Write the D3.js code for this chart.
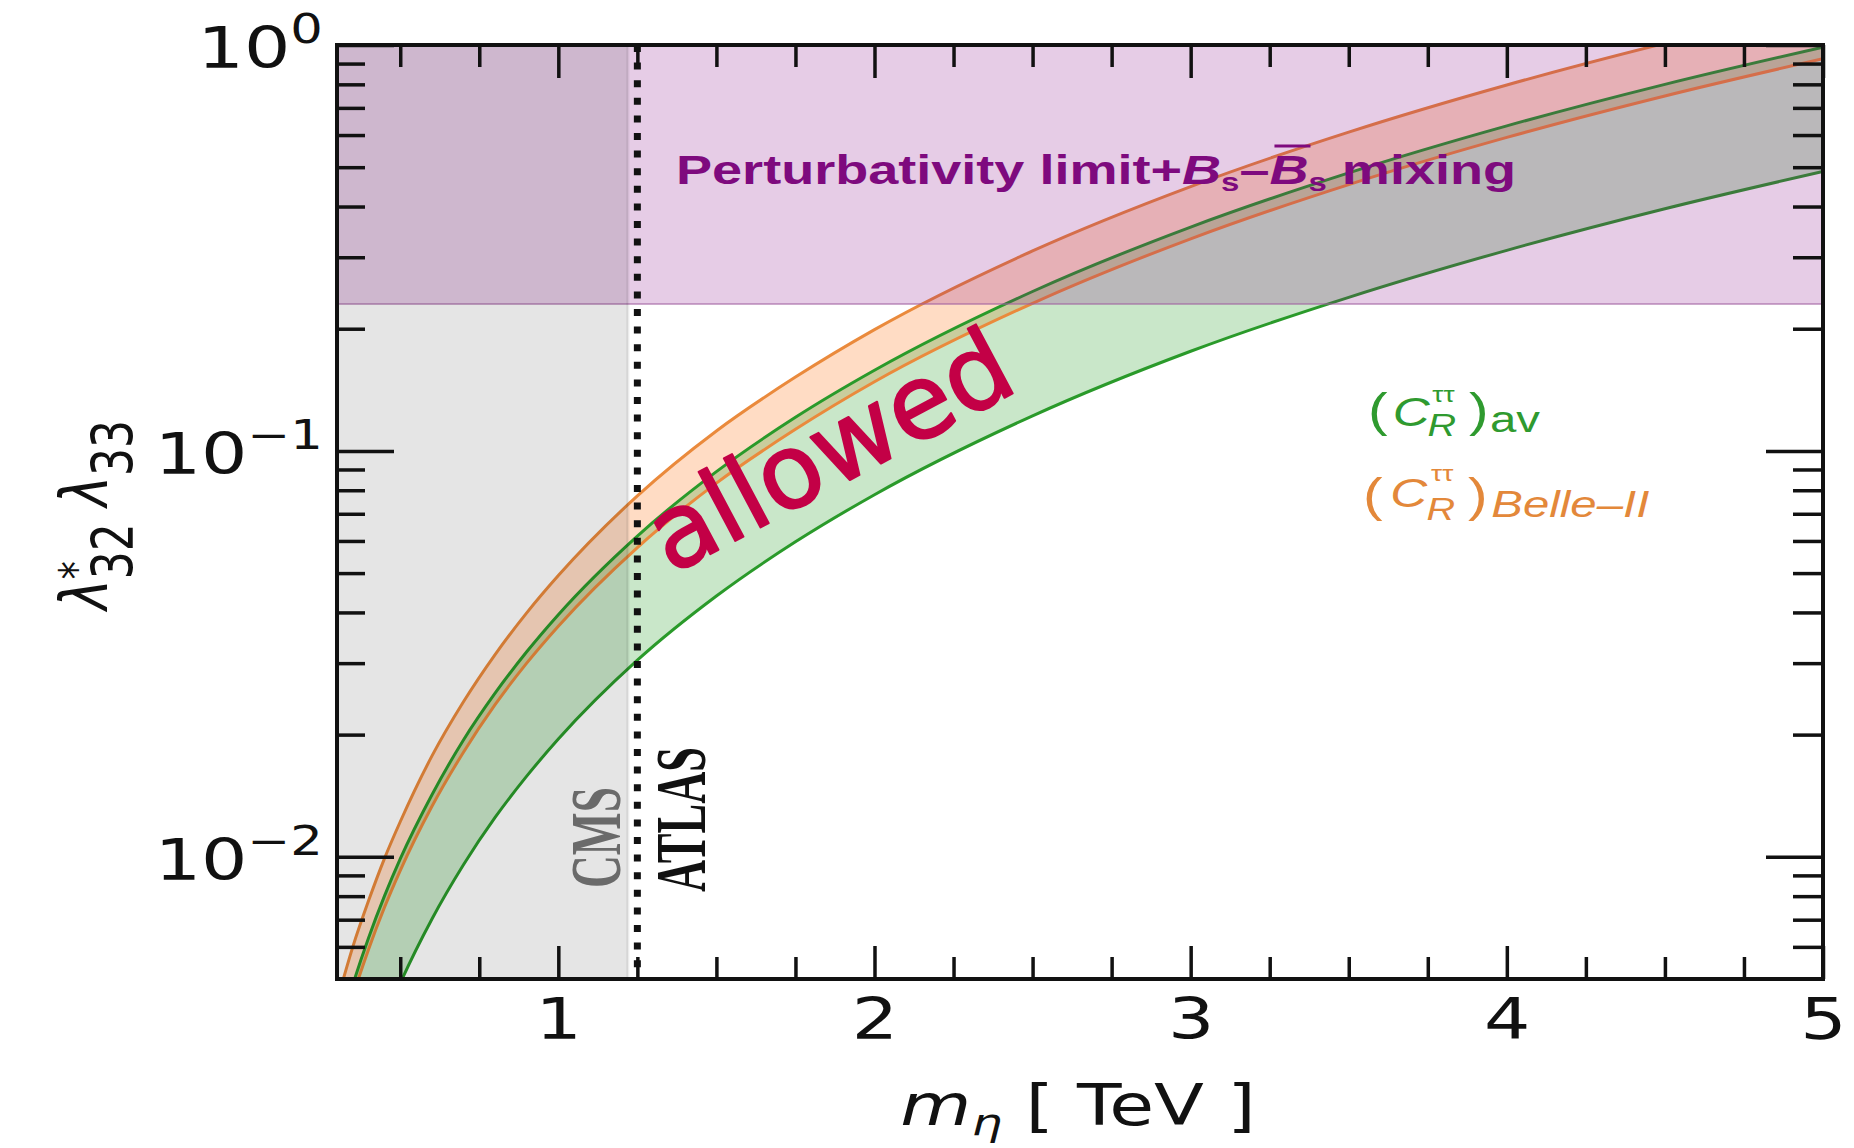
<!DOCTYPE html>
<html>
<head>
<meta charset="utf-8">
<script src="https://cdn.jsdelivr.net/npm/d3@7"></script>
<style>
  html, body { margin: 0; padding: 0; background: #fff; }
  svg { display: block; }
</style>
</head>
<body>
<div id="chart"></div>
<script>
// leptoquark mass grid (TeV) and the band edges
const massTeV = [0.3, 0.35, 0.4, 0.45, 0.5, 0.6, 0.7, 0.8, 0.9, 1.0, 1.25, 1.5, 1.75, 2.0, 2.5, 3.0, 3.5, 4.0, 4.5, 5.0];
const avLower = [0.00176, 0.00239, 0.00312, 0.00395, 0.00488, 0.00702, 0.00956, 0.0125, 0.0158, 0.0195, 0.0305, 0.0439, 0.0597, 0.078, 0.122, 0.176, 0.239, 0.312, 0.395, 0.488];
const avUpper = [0.00356, 0.00484, 0.00632, 0.008, 0.00988, 0.0142, 0.0194, 0.0253, 0.032, 0.0395, 0.0617, 0.0889, 0.121, 0.158, 0.247, 0.356, 0.484, 0.632, 0.8, 0.988];
const belleLower = [0.00333, 0.00453, 0.00592, 0.0075, 0.00925, 0.0133, 0.0181, 0.0237, 0.03, 0.037, 0.0578, 0.0833, 0.113, 0.148, 0.231, 0.333, 0.453, 0.592, 0.749, 0.925];
const belleUpper = [0.0044, 0.006, 0.0078, 0.0099, 0.0122, 0.0177, 0.0241, 0.0315, 0.0399, 0.0493, 0.0775, 0.112, 0.152, 0.199, 0.311, 0.448, 0.61, 0.797, 1.01, 1.25];

const perturbativityLimit = 0.23;
const cmsBound = 1.22;
const atlasBound = 1.25;

const xMajorTicks = [1, 2, 3, 4, 5];
const xMinorTicks = [0.5, 0.75, 1.25, 1.5, 1.75, 2.25, 2.5, 2.75, 3.25, 3.5, 3.75, 4.25, 4.5, 4.75];
const yMajorTicks = [0.01, 0.1, 1];
const yTickExponents = ['\u22122', '\u22121', '0'];
const yMinorTicks = [0.006, 0.007, 0.008, 0.009, 0.02, 0.03, 0.04, 0.05, 0.06, 0.07, 0.08, 0.09,
                     0.2, 0.3, 0.4, 0.5, 0.6, 0.7, 0.8, 0.9];

const width = 1854, height = 1148;
const plot = { left: 337, right: 1823, top: 45, bottom: 979 };
const stretch = 1.28; // the source figure is stretched sideways

const svg = d3.select('#chart').append('svg')
    .attr('width', width)
    .attr('height', height)
    .attr('viewBox', `0 0 ${width} ${height}`);

const x = d3.scaleLinear().domain([0.3, 5]).range([plot.left, plot.right]);
const y = d3.scaleLog().domain([0.005, 1]).range([plot.bottom, plot.top]);

svg.append('defs').append('clipPath')
    .attr('id', 'plot-clip')
    .append('rect')
    .attr('x', plot.left)
    .attr('y', plot.top)
    .attr('width', plot.right - plot.left)
    .attr('height', plot.bottom - plot.top);

const plotArea = svg.append('g').attr('clip-path', 'url(#plot-clip)');

const rows = massTeV.map((m, i) => ({
    m,
    avLo: avLower[i], avHi: avUpper[i],
    beLo: belleLower[i], beHi: belleUpper[i]
}));

const band = (lo, hi) => d3.area()
    .x(d => x(d.m))
    .y0(d => y(d[lo]))
    .y1(d => y(d[hi]))
    .curve(d3.curveMonotoneX);

const edge = key => d3.line()
    .x(d => x(d.m))
    .y(d => y(d[key]))
    .curve(d3.curveMonotoneX);

plotArea.append('path')
    .datum(rows)
    .attr('d', band('beLo', 'beHi'))
    .attr('fill', '#ff8a3a')
    .attr('fill-opacity', 0.3);

plotArea.append('path')
    .datum(rows)
    .attr('d', band('avLo', 'avHi'))
    .attr('fill', '#28a028')
    .attr('fill-opacity', 0.25);

['beHi', 'beLo'].forEach(key => {
    plotArea.append('path')
        .datum(rows)
        .attr('d', edge(key))
        .attr('fill', 'none')
        .attr('stroke', '#ea8a3c')
        .attr('stroke-width', 3);
});

['avHi', 'avLo'].forEach(key => {
    plotArea.append('path')
        .datum(rows)
        .attr('d', edge(key))
        .attr('fill', 'none')
        .attr('stroke', '#2a9a2a')
        .attr('stroke-width', 3);
});

// perturbativity + Bs mixing exclusion, laid over the bands
plotArea.append('rect')
    .attr('x', x(0.3))
    .attr('y', y(1))
    .attr('width', x(5) - x(0.3))
    .attr('height', y(perturbativityLimit) - y(1))
    .attr('fill', '#800080')
    .attr('fill-opacity', 0.2);

plotArea.append('line')
    .attr('x1', x(0.3)).attr('x2', x(5))
    .attr('y1', y(perturbativityLimit)).attr('y2', y(perturbativityLimit))
    .attr('stroke', '#a060a0')
    .attr('stroke-opacity', 0.7)
    .attr('stroke-width', 1.5);

// CMS exclusion
plotArea.append('rect')
    .attr('x', x(0.3))
    .attr('y', plot.top)
    .attr('width', x(cmsBound) - x(0.3))
    .attr('height', plot.bottom - plot.top)
    .attr('fill', '#000')
    .attr('fill-opacity', 0.1);

plotArea.append('line')
    .attr('x1', x(cmsBound)).attr('x2', x(cmsBound))
    .attr('y1', plot.top).attr('y2', plot.bottom)
    .attr('stroke', '#000')
    .attr('stroke-opacity', 0.08)
    .attr('stroke-width', 3);

// ATLAS bound
plotArea.append('line')
    .attr('x1', x(atlasBound)).attr('x2', x(atlasBound))
    .attr('y1', plot.top).attr('y2', plot.bottom)
    .attr('stroke', '#111')
    .attr('stroke-width', 7)
    .attr('stroke-dasharray', '7,10.6');

// annotations
const ptext = svg.append('text')
    .attr('x', 676)
    .attr('y', 184)
    .attr('font-family', '"Liberation Sans Narrow", "Liberation Sans", sans-serif')
    .attr('font-weight', 'bold')
    .attr('font-size', 41)
    .attr('fill', '#7e0a7e')
    .attr('textLength', 840)
    .attr('lengthAdjust', 'spacingAndGlyphs');
ptext.append('tspan').text('Perturbativity limit+');
ptext.append('tspan').attr('font-style', 'italic').text('B');
ptext.append('tspan').attr('font-size', 25).attr('dy', 7).text('s');
ptext.append('tspan').attr('dy', -7).text('\u2013');
ptext.append('tspan').attr('font-style', 'italic').text('B');
ptext.append('tspan').attr('font-size', 25).attr('dy', 7).text('s');
ptext.append('tspan').attr('dy', -7).text(' mixing');

const barB = ptext.node().getExtentOfChar(24);
svg.append('line')
    .attr('x1', barB.x + 5).attr('x2', barB.x + barB.width + 2)
    .attr('y1', 146).attr('y2', 146)
    .attr('stroke', '#7e0a7e')
    .attr('stroke-width', 3);

svg.append('text')
    .attr('transform', 'translate(846,482) rotate(-28)')
    .attr('text-anchor', 'middle')
    .attr('font-family', '"DejaVu Sans", sans-serif')
    .attr('font-size', 103)
    .attr('fill', '#c30046')
    .attr('stroke', '#c30046')
    .attr('stroke-width', 2)
    .attr('stroke-linejoin', 'round')
    .text('allowed');

svg.append('text')
    .attr('transform', `translate(620,888) rotate(-90) scale(1,${stretch})`)
    .attr('font-family', '"Liberation Serif", serif')
    .attr('font-weight', 'bold')
    .attr('font-size', 56)
    .attr('fill', '#6a6a6a')
    .attr('textLength', 101)
    .attr('lengthAdjust', 'spacingAndGlyphs')
    .text('CMS');

svg.append('text')
    .attr('transform', `translate(705,892) rotate(-90) scale(1,${stretch})`)
    .attr('font-family', '"Liberation Serif", serif')
    .attr('font-weight', 'bold')
    .attr('font-size', 56)
    .attr('fill', '#111')
    .attr('textLength', 145)
    .attr('lengthAdjust', 'spacingAndGlyphs')
    .text('ATLAS');

// legend
function legendLine(x0, y0, color, pieces) {
    const t = svg.append('text')
        .attr('transform', `translate(${x0},${y0}) scale(${stretch},1)`)
        .attr('font-family', '"Liberation Sans", sans-serif')
        .attr('fill', color);
    pieces.forEach(p => {
        const s = t.append('tspan').attr('font-size', p.size).text(p.text);
        if (p.italic) s.attr('font-style', 'italic');
        if (p.dx) s.attr('dx', p.dx);
        if (p.dy) s.attr('dy', p.dy);
    });
    return t;
}

legendLine(1368, 426, '#2f9a2f', [
    { text: '(', size: 46 },
    { text: 'C', size: 40, italic: true, dx: 4 },
    { text: '\u03c4\u03c4', size: 22, dx: 2, dy: -24 },
    { text: 'R', size: 31, italic: true, dx: -21, dy: 34 },
    { text: ')', size: 46, dx: 10, dy: -10 },
    { text: 'av', size: 37, dx: 1, dy: 6 }
]);

legendLine(1363, 511, '#e3883a', [
    { text: '(', size: 46 },
    { text: 'C', size: 40, italic: true, dx: 6, dy: -4 },
    { text: '\u03c4\u03c4', size: 22, dx: 3, dy: -26 },
    { text: 'R', size: 31, italic: true, dx: -21, dy: 39 },
    { text: ')', size: 46, dx: 10, dy: -9 },
    { text: 'Belle\u2013II', size: 37, italic: true, dx: 3, dy: 6 }
]);

// axes
const tickStyle = g => {
    g.select('.domain').remove();
    g.selectAll('.tick line').attr('stroke', '#111').attr('stroke-width', 3.5);
};

svg.append('g')
    .attr('transform', `translate(0,${plot.bottom})`)
    .call(d3.axisBottom(x).tickValues(xMajorTicks).tickSize(-33).tickPadding(20).tickFormat(d3.format('d')))
    .call(tickStyle)
    .call(g => g.selectAll('.tick text')
        .attr('font-family', '"DejaVu Sans", sans-serif')
        .attr('font-size', 57)
        .attr('fill', '#111')
        .attr('transform', `scale(${stretch},1)`));

svg.append('g')
    .attr('transform', `translate(0,${plot.bottom})`)
    .call(d3.axisBottom(x).tickValues(xMinorTicks).tickSize(-22).tickFormat(''))
    .call(tickStyle);

svg.append('g')
    .attr('transform', `translate(0,${plot.top})`)
    .call(d3.axisTop(x).tickValues(xMajorTicks).tickSize(-33).tickFormat(''))
    .call(tickStyle);

svg.append('g')
    .attr('transform', `translate(0,${plot.top})`)
    .call(d3.axisTop(x).tickValues(xMinorTicks).tickSize(-22).tickFormat(''))
    .call(tickStyle);

svg.append('g')
    .attr('transform', `translate(${plot.left},0)`)
    .call(d3.axisLeft(y).tickValues(yMajorTicks).tickSize(-57).tickPadding(11).tickFormat(() => '10'))
    .call(tickStyle)
    .call(g => g.selectAll('.tick text')
        .attr('font-family', '"DejaVu Sans", sans-serif')
        .attr('font-size', 57)
        .attr('fill', '#111')
        .attr('dy', '0.4em')
        .attr('transform', `scale(${stretch},1)`)
        .append('tspan')
        .attr('dy', -25)
        .attr('font-size', 40)
        .text(d => yTickExponents[yMajorTicks.indexOf(d)]));

svg.append('g')
    .attr('transform', `translate(${plot.left},0)`)
    .call(d3.axisLeft(y).tickValues(yMinorTicks).tickSize(-28).tickFormat(''))
    .call(tickStyle);

svg.append('g')
    .attr('transform', `translate(${plot.right},0)`)
    .call(d3.axisRight(y).tickValues(yMajorTicks).tickSize(-57).tickFormat(''))
    .call(tickStyle);

svg.append('g')
    .attr('transform', `translate(${plot.right},0)`)
    .call(d3.axisRight(y).tickValues(yMinorTicks).tickSize(-30).tickFormat(''))
    .call(tickStyle);

svg.append('rect')
    .attr('x', plot.left)
    .attr('y', plot.top)
    .attr('width', plot.right - plot.left)
    .attr('height', plot.bottom - plot.top)
    .attr('fill', 'none')
    .attr('stroke', '#111')
    .attr('stroke-width', 4);

// axis titles
const xTitle = svg.append('text')
    .attr('transform', `translate(1078,1125) scale(${stretch},1)`)
    .attr('text-anchor', 'middle')
    .attr('font-family', '"DejaVu Sans", sans-serif')
    .attr('font-size', 57)
    .attr('fill', '#111');
xTitle.append('tspan').attr('font-style', 'italic').text('m');
xTitle.append('tspan').attr('font-style', 'italic').attr('font-size', 38).attr('dy', 10).text('\u03b7');
xTitle.append('tspan').attr('dy', -10).text(' [ TeV ]');

const yTitle = svg.append('text')
    .attr('transform', `translate(107,515) rotate(-90) scale(1,${stretch})`)
    .attr('text-anchor', 'middle')
    .attr('font-family', '"DejaVu Sans", sans-serif')
    .attr('font-size', 52)
    .attr('fill', '#111');
yTitle.append('tspan').attr('font-style', 'italic').text('\u03bb');
yTitle.append('tspan').attr('font-size', 36).attr('dy', -12).text('*');
yTitle.append('tspan').attr('font-size', 44).attr('dx', -18).attr('dy', 32).text('32');
yTitle.append('tspan').attr('font-style', 'italic').attr('dy', -20).text(' \u03bb');
yTitle.append('tspan').attr('font-size', 44).attr('dy', 20).text('33');
</script>
</body>
</html>
